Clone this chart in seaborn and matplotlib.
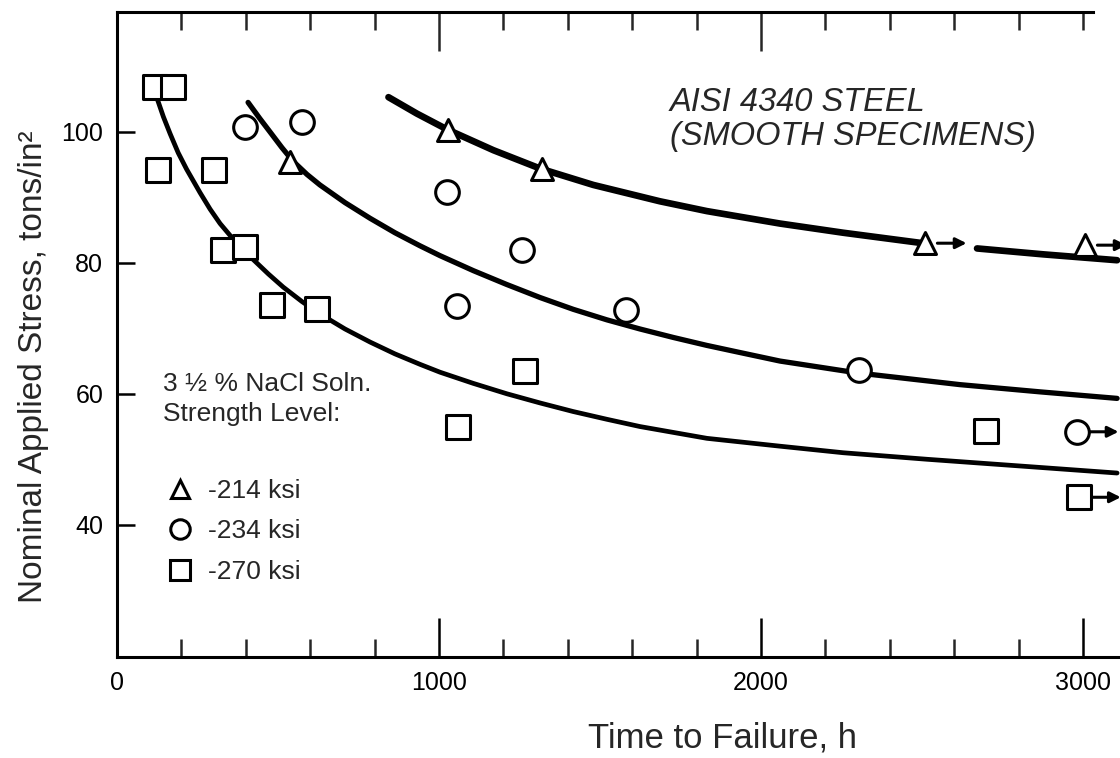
import matplotlib
matplotlib.use("Agg")
import matplotlib.pyplot as plt
import matplotlib.transforms as mtransforms
from matplotlib.lines import Line2D
from matplotlib.ticker import MultipleLocator
import seaborn as sns

# ---- measured data (time to failure in h, nominal stress in tons/in^2) ----
tri_time = [537, 1028, 1320, 2509, 3006]
tri_stress = [95.4, 100.3, 94.4, 83.0, 82.7]
tri_runout = [False, False, False, True, True]

circ_time = [398, 575, 1025, 1258, 1056, 1581, 2304, 2981]
circ_stress = [100.8, 101.5, 90.8, 81.9, 73.4, 72.8, 63.6, 54.2]
circ_runout = [False, False, False, False, False, False, False, True]

sq_time = [118, 174, 127, 301, 329, 398, 481, 621, 1267, 1059, 2699, 2988]
sq_stress = [106.8, 106.8, 94.2, 94.2, 81.9, 82.4, 73.5, 72.9, 63.5, 55.0, 54.3, 44.2]
sq_runout = [False] * 11 + [True]

# ---- trend curves for each strength level ----
tri_curve_a_time = [843, 931, 1024, 1169, 1314, 1479, 1686, 1832, 2059, 2255, 2503]
tri_curve_a_stress = [105.3, 102.8, 100.4, 97.2, 94.4, 91.9, 89.4, 87.9, 86.0, 84.6, 83.0]
tri_curve_b_time = [2671, 2876, 3106]
tri_curve_b_stress = [82.2, 81.3, 80.4]

circ_curve_time = [407, 444, 475, 512, 547, 590, 630, 708, 786, 863, 941, 1003, 1107,
                   1210, 1314, 1417, 1521, 1624, 1728, 1831, 1935, 2059, 2298, 2618,
                   2866, 3106]
circ_curve_stress = [104.5, 102.0, 100.0, 97.6, 95.5, 93.5, 91.9, 89.2, 86.8, 84.6, 82.6,
                     81.1, 78.8, 76.7, 74.7, 72.9, 71.3, 69.9, 68.6, 67.4, 66.3, 65.0,
                     63.2, 61.4, 60.3, 59.3]

sq_curve_time = [123, 144, 165, 190, 216, 258, 289, 320, 356, 392, 423, 470, 516, 574,
                 630, 708, 786, 863, 941, 1003, 1106, 1211, 1314, 1416, 1522, 1624, 1832,
                 2059, 2255, 2516, 2826, 3106]
sq_curve_stress = [105.3, 102.3, 99.7, 96.8, 94.3, 90.7, 88.2, 86.0, 83.9, 82.0, 80.5,
                   78.3, 76.3, 74.1, 72.2, 69.9, 67.9, 66.1, 64.5, 63.3, 61.6, 60.0,
                   58.6, 57.3, 56.1, 55.0, 53.2, 52.0, 51.0, 50.0, 48.9, 47.9]

levels = ["-214 ksi", "-234 ksi", "-270 ksi"]
markers = ["^", "o", "s"]

sns.set_style("ticks")
plt.rcParams["font.family"] = ["Liberation Sans", "DejaVu Sans"]

fig = plt.figure(figsize=(11.2, 7.58), dpi=100)
ax = fig.add_axes([0.1045, 0.1332, 0.8955, 0.8509])

# trend curves
curve_sets = [
    (tri_curve_a_time, tri_curve_a_stress, 4.8),
    (tri_curve_b_time, tri_curve_b_stress, 4.8),
    (circ_curve_time, circ_curve_stress, 3.8),
    (sq_curve_time, sq_curve_stress, 3.4),
]
for xs, ys, lw in curve_sets:
    sns.lineplot(x=xs, y=ys, ax=ax, color="black", lw=lw, sort=False,
                 estimator=None, solid_capstyle="round", solid_joinstyle="round",
                 zorder=2)

# test points, run-outs marked with an arrow
series = [
    (tri_time, tri_stress, tri_runout, "^", 250),
    (circ_time, circ_stress, circ_runout, "o", 290),
    (sq_time, sq_stress, sq_runout, "s", 290),
]
arrow_tf = mtransforms.offset_copy(ax.transData, fig=fig, x=30, y=0, units="points")
for xs, ys, runout, mk, size in series:
    sns.scatterplot(x=xs, y=ys, ax=ax, marker=mk, s=size, facecolor="white",
                    edgecolor="black", linewidth=2.2, zorder=4)
    for x, y, r in zip(xs, ys, runout):
        if r:
            ax.annotate("", xy=(x, y), xycoords=arrow_tf, xytext=(x, y),
                        textcoords="data",
                        arrowprops=dict(arrowstyle="-|>", color="black", lw=2.2,
                                        mutation_scale=16, shrinkA=9, shrinkB=0),
                        zorder=3, annotation_clip=False)

# axes limits, ticks, spines
ax.set_xlim(0, 3115)
ax.set_ylim(19.8, 118.3)
ax.set_xticks([0, 1000, 2000, 3000])
ax.xaxis.set_minor_locator(MultipleLocator(200))
ax.set_yticks([40, 60, 80, 100])
ax.tick_params(axis="x", which="major", direction="in", length=28, width=1.8,
               top=False, bottom=True, labelsize=18, pad=10, colors="black")
ax.tick_params(axis="x", which="minor", direction="in", length=13, width=1.8,
               top=False, bottom=True)
ax.tick_params(axis="y", which="major", direction="in", length=13, width=1.8,
               labelsize=18, pad=10, colors="black")
ax.spines["right"].set_visible(False)
for side in ["left", "bottom", "top"]:
    ax.spines[side].set_linewidth(2.2)
    ax.spines[side].set_color("black")
ax.spines["top"].set_bounds(0, 3030)

# tick marks along the top edge
top = ax.secondary_xaxis("top")
top.set_xticks([1000, 2000])
top.xaxis.set_minor_locator(MultipleLocator(200))
top.tick_params(which="major", direction="in", length=28, width=1.8, labeltop=False)
top.tick_params(which="minor", direction="in", length=13, width=1.8)
top.spines["top"].set_visible(False)

ax.set_xlabel("Time to Failure, h", fontsize=25)
ax.xaxis.set_label_coords(0.604, -0.10)
ax.set_ylabel("Nominal Applied Stress, tons/in\u00b2", fontsize=24)
ax.yaxis.set_label_coords(-0.068, 0.45)

# material note
ax.text(0.551, 0.884, "AISI 4340 STEEL\n(SMOOTH SPECIMENS)", transform=ax.transAxes,
        ha="left", va="top", fontsize=23.5, style="italic", linespacing=1.12)

# key
ax.text(0.046, 0.442, "3 \u00bd % NaCl Soln.\nStrength Level:", transform=ax.transAxes,
        ha="left", va="top", fontsize=19, linespacing=1.3)
handles = [Line2D([], [], ls="none", marker=m, ms=14 if m != "^" else 13,
                  mfc="white", mec="black", mew=2.2) for m in markers]
ax.legend(handles, levels, loc="upper left", bbox_to_anchor=(0.0498, 0.276),
          frameon=False, fontsize=19, handlelength=1.0, handletextpad=0.55,
          labelspacing=0.62, borderpad=0, borderaxespad=0)

fig.savefig("out.png", dpi=100, facecolor="white")
